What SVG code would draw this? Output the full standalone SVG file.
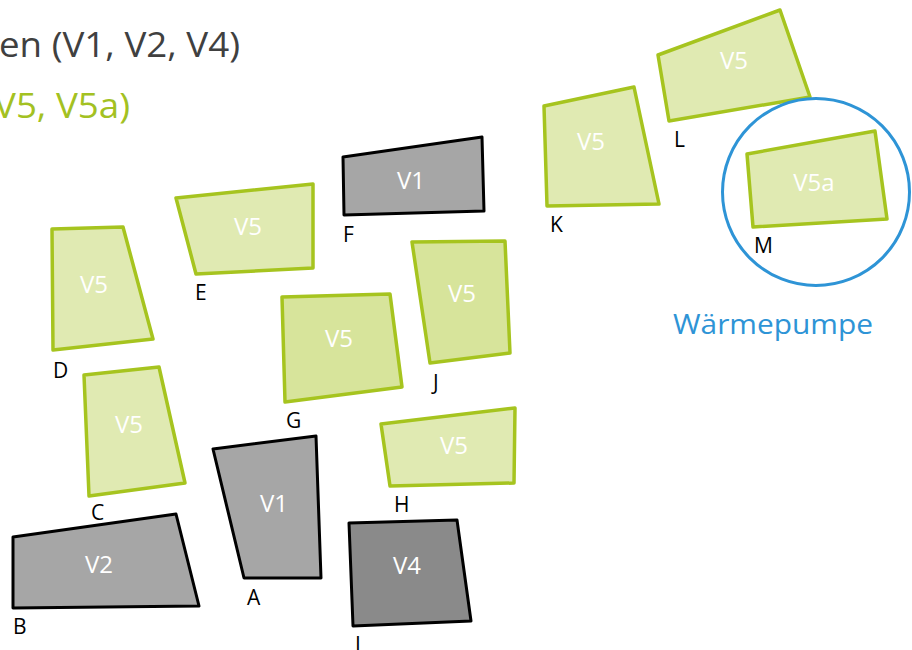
<svg xmlns="http://www.w3.org/2000/svg" width="912" height="650" viewBox="0 0 912 650">
<style>
.v5{fill:#E0EAB2;stroke:#A6C41F;stroke-width:3.5;stroke-linejoin:round}
.v5d{fill:#D7E49B;stroke:#A6C41F;stroke-width:3.5;stroke-linejoin:round}
.g{fill:#A6A6A6;stroke:#000;stroke-width:3;stroke-linejoin:round}
.gd{fill:#8A8A8A;stroke:#000;stroke-width:3;stroke-linejoin:round}
.in{font-family:"Open Sans","Liberation Sans",sans-serif;font-size:24px;fill:#FFFFFF;text-anchor:middle}
.lb{font-family:"Open Sans","Liberation Sans",sans-serif;font-size:21px;fill:#000}
</style>
<g id="title">
<text x="-1" y="57" font-family="Open Sans, Liberation Sans, sans-serif" font-size="34" fill="#404040" textLength="241" lengthAdjust="spacingAndGlyphs">en (V1, V2, V4)</text>
<text x="-6" y="118" font-family="Open Sans, Liberation Sans, sans-serif" font-size="34" fill="#A3C122" textLength="136" lengthAdjust="spacingAndGlyphs">V5, V5a)</text>
</g>
<g id="node-D"><polygon class="v5" points="52,229 123,227 153,339 53,350"/><text class="in" x="94" y="293">V5</text><text class="lb" x="53" y="378">D</text></g>
<g id="node-E"><polygon class="v5" points="176,198 313,184 313,268 196,274"/><text class="in" x="248" y="235">V5</text><text class="lb" x="195" y="300">E</text></g>
<g id="node-C"><polygon class="v5" points="84,375 159,367 185,483 89,496"/><text class="in" x="129" y="433">V5</text><text class="lb" x="91" y="520">C</text></g>
<g id="node-B"><polygon class="g" points="13,537 176,514 199,606 13,608"/><text class="in" x="99" y="573">V2</text><text class="lb" x="13" y="634">B</text></g>
<g id="node-A"><polygon class="g" points="213,449 316,436 321,578 244,578"/><text class="in" x="274" y="512">V1</text><text class="lb" x="247" y="605">A</text></g>
<g id="node-F"><polygon class="g" points="343,157 482,137 484,211 344,215"/><text class="in" x="411" y="189">V1</text><text class="lb" x="343" y="242">F</text></g>
<g id="node-G"><polygon class="v5d" points="282,297 390,294 402,387 285,402"/><text class="in" x="339" y="347">V5</text><text class="lb" x="286" y="428">G</text></g>
<g id="node-J"><polygon class="v5d" points="412,242 505,241 510,353 430,363"/><text class="in" x="462" y="302">V5</text><text class="lb" x="433" y="390">J</text></g>
<g id="node-H"><polygon class="v5" points="381,424 515,408 514,483 390,486"/><text class="in" x="454" y="454">V5</text><text class="lb" x="394" y="512">H</text></g>
<g id="node-I"><polygon class="gd" points="349,523 457,520 471,621 353,626"/><text class="in" x="407" y="574">V4</text><text class="lb" x="355" y="652">I</text></g>
<g id="node-K"><polygon class="v5" points="544,106 634,87 659,204 547,206"/><text class="in" x="591" y="150">V5</text><text class="lb" x="550" y="232">K</text></g>
<g id="node-L"><polygon class="v5" points="658,55 780,10 810,97 669,121"/><text class="in" x="734" y="69">V5</text><text class="lb" x="674" y="147">L</text></g>
<g id="node-M"><polygon class="v5" points="747,154 875,131 887,219 753,227"/><text class="in" x="814" y="191">V5a</text><text class="lb" x="754" y="253">M</text></g>
<g id="waermepumpe"><circle cx="816" cy="192" r="93.5" fill="none" stroke="#2E94D6" stroke-width="3"/><text x="673" y="334" font-family="Open Sans, Liberation Sans, sans-serif" font-size="28" fill="#2E94D6" textLength="200" lengthAdjust="spacingAndGlyphs">Wärmepumpe</text></g>
<g id="connectors"/>
</svg>
